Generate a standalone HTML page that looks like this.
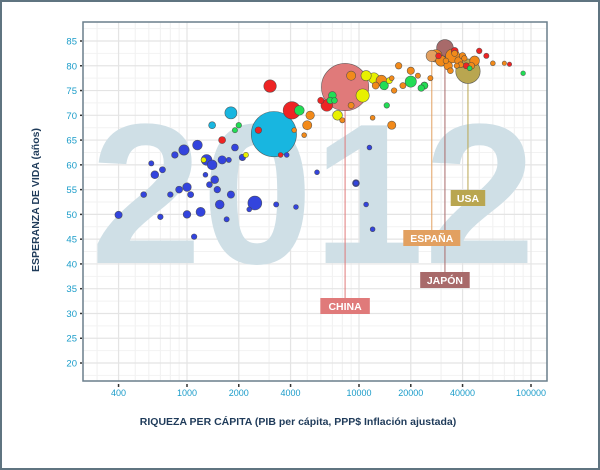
<!DOCTYPE html>
<html><head><meta charset="utf-8"><style>
body{margin:0;background:#fff;}
svg{display:block;font-family:"Liberation Sans",sans-serif;}
</style></head><body>
<svg id="chart" width="600" height="470" viewBox="0 0 600 470">
<rect x="1" y="1" width="598" height="468" fill="#fff" stroke="#5f7480" stroke-width="2"/>
<g id="grid"></g>
<text x="313" y="263" text-anchor="middle" font-size="200" font-weight="bold" fill="#cfdfe6">2012</text>
<g id="lines"></g>
<g id="bubbles"></g>
<g id="labels"></g>
<g id="axes"></g>
<text x="298" y="425" text-anchor="middle" font-size="10.5" font-weight="bold" fill="#1f3b5a">RIQUEZA PER CÁPITA (PIB per cápita, PPP$ Inflación ajustada)</text>
<text transform="translate(39,200) rotate(-90)" text-anchor="middle" font-size="10.5" font-weight="bold" fill="#1f3b5a">ESPERANZA DE VIDA (años)</text>
</svg>
<script>
const xTicks=[400,1000,2000,4000,10000,20000,40000,100000];
const yTicks=[20,25,30,35,40,45,50,55,60,65,70,75,80,85];
const gdp=[8300,3200,43000,31600,26500,2480,400,15500,12200,3040,1800,4070,9600,960,
620,560,720,850,650,800,900,1000,1050,1100,1000,1200,1300,1400,1450,1500,1350,1550,1600,1700,1800,1900,2100,2300,1150,1280,700,1750,3800,3300,4300,5700,11000,12000,11500,9600,1250,
1400,2000,2600,1600,5200,4500,6500,5000,7000,6800,7500,6000,10500,11000,13500,14000,9000,12500,15000,17000,20000,18000,16000,22000,24000,14500,8000,7200,3500,4200,4800,2200,1900,
28000,30000,33000,35000,38000,36000,40000,42000,34000,45000,50000,55000,47000,29000,32000,37000,44000,60000,70000,75000,90000,36000,41000,39000,24000,23000,26000,20000,12000,15500,9000];
const life=[75.7,66.2,78.9,83.6,82,52.3,49.9,68,77.5,75.9,70.5,71,56.3,63,
60.3,54,59,62,58,54,55,55.5,54,45.5,50,50.5,61,60,57,55,56,52,61,49,54,63.5,61.5,51,64,58,49.5,61,62,52,51.5,58.5,52,47,63.5,56.3,61,
68,68,67,65,70,71,72,68,74,73,70,73,74,78,77,76,78,76,77,80,79,76,75,78,76,72,69,73,62,67,66,62,67,
82,81,80,82,81,83,82,80,79,80,83,82,81,82,81,80,79.5,80.5,80.5,80.3,78.5,82.5,81.5,80.2,76,75.5,77.5,76.8,69.5,77.5,72];
const pop=[1350,1230,314,127,47,80,12,18,40,60,55,140,10,35,
3,5,6,8,15,4,10,20,6,4,14,25,40,30,15,8,5,22,18,3,12,10,8,2,30,2,4,3,2,3,2,2,2,2,2,3,3,
10,4,8,10,20,30,50,25,15,8,30,7,70,35,40,20,25,10,6,8,12,6,4,3,10,4,3,5,2,2,2,3,3,
60,40,20,80,16,10,8,6,5,9,4,3,30,5,4,3,2,2,1,1,1.5,6,4,5,10,8,3,45,2,2,6];
const region=[2,1,3,2,3,0,0,3,4,2,1,2,0,0,
0,0,0,0,0,0,0,0,0,0,0,0,0,0,0,0,0,0,0,0,0,0,0,0,0,0,0,0,0,0,0,0,0,0,0,0,4,
1,5,2,2,3,5,2,3,5,5,4,2,4,4,3,5,3,3,4,3,3,3,3,3,3,5,3,5,2,3,3,4,5,
3,3,3,3,3,2,3,2,3,3,2,2,3,2,3,3,5,3,3,2,5,3,3,3,5,5,3,5,3,3,3];
const names=["CHINA","INDIA","USA","JAPÓN","ESPAÑA"];
const regionColors=["#3344dd","#18b6e0","#ee2424","#f28a1a","#e8f000","#22dd55"];
const special={0:"#e07a7a",2:"#b9a650",3:"#a86a6a",4:"#e2a060"};
const labelRows={0:306,2:198,3:280,4:238};
const NS="http://www.w3.org/2000/svg";
const L=83,R=547,T=22,B=381;
function xs(v){return 187+172*Math.log10(v/1000);}
function ys(v){return 41+(85-v)*4.954;}
function mk(tag,attrs,parent){const e=document.createElementNS(NS,tag);for(const k in attrs)e.setAttribute(k,attrs[k]);parent.appendChild(e);return e;}
const grid=document.getElementById('grid'),axes=document.getElementById('axes');
mk('rect',{x:L,y:T,width:R-L,height:B-T,fill:'#fff'},grid);
for(let d=2;d<=5;d++)for(let m=1;m<10;m++){const v=m*Math.pow(10,d);const x=xs(v);if(x<L||x>R)continue;
 const ln=mk('line',{x1:x,x2:x,y1:T,y2:B,stroke:'#f0f0f0','stroke-width':1},grid);
 
 }
for(let v=17.5;v<=87.5;v+=5){const y=ys(v);if(y<T||y>B)continue;const ln=mk('line',{x1:L,x2:R,y1:y,y2:y,stroke:'#f2f2f2','stroke-width':1},grid);
 
 }
xTicks.forEach(v=>{const x=xs(v);const ln=mk('line',{x1:x,x2:x,y1:T,y2:B,stroke:'#e4e4e4','stroke-width':1.2},grid);
 
 
 const tk=mk('line',{x1:x,x2:x,y1:B+3,y2:B+6,stroke:'#333','stroke-width':1.5},axes);
 
 
 const t=mk('text',{x:x,y:B+15,'text-anchor':'middle','font-size':9,fill:'#1a9cc9'},axes);t.textContent=v;
 
 });
yTicks.forEach(v=>{const y=ys(v);const ln=mk('line',{x1:L,x2:R,y1:y,y2:y,stroke:'#e4e4e4','stroke-width':1.2},grid);
 
 
 const tk=mk('line',{x1:L-3,x2:L-1,y1:y,y2:y,stroke:'#333','stroke-width':1.5},axes);
 
 
 const t=mk('text',{x:L-6,y:y+3.5,'text-anchor':'end','font-size':9.5,fill:'#1a9cc9'},axes);t.textContent=v;
 
 });
const ax=mk('path',{d:`M${L},${T} L${L},${B} L${R},${B} L${R},${T} Z`,fill:'none',stroke:'#6a7f8c','stroke-width':1.5},axes);


const bub=document.getElementById('bubbles');
const idx=gdp.map((_,i)=>i).sort((a,b)=>pop[b]-pop[a]);
idx.forEach(i=>{const r=0.6*Math.sqrt(pop[i])+1.6;const c=mk('circle',{cx:xs(gdp[i]),cy:ys(life[i]),r:r,fill:special[i]||regionColors[region[i]],stroke:'#444','stroke-width':0.6,'stroke-opacity':0.8},bub);
 
 });
const lines=document.getElementById('lines'),labels=document.getElementById('labels');
[0,2,3,4].forEach(i=>{const x=xs(gdp[i]),y=ys(life[i]),ly=labelRows[i];
 const ln=mk('line',{x1:x,x2:x,y1:y,y2:ly-8,stroke:special[i],'stroke-width':1},lines);
 
 
 const w=names[i].length*7.5+12;
 const bx=mk('rect',{x:x-w/2,y:ly-8,width:w,height:16,fill:special[i]},labels);
 
 
 const t=mk('text',{x:x,y:ly+4,'text-anchor':'middle','font-size':10.5,'font-weight':'bold',fill:'#fff'},labels);t.textContent=names[i];
 
 });
</script>
</body></html>
